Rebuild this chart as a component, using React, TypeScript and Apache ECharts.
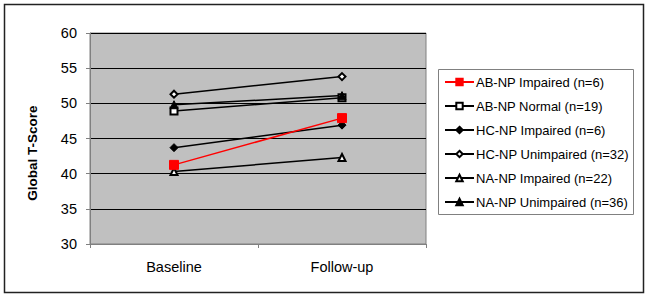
import React, { useEffect, useRef } from "react";
import * as echarts from "echarts";

const categories = ["Baseline", "Follow-up"];
const seriesNames = [
  "AB-NP Impaired (n=6)",
  "AB-NP Normal (n=19)",
  "HC-NP Impaired (n=6)",
  "HC-NP Unimpaired (n=32)",
  "NA-NP Impaired (n=22)",
  "NA-NP Unimpaired (n=36)",
];
const abImpaired = [41.25, 47.9];
const abNormal = [48.9, 50.8];
const hcImpaired = [43.7, 46.9];
const hcUnimpaired = [51.3, 53.8];
const naImpaired = [40.3, 42.3];
const naUnimpaired = [49.8, 51.1];
const yTicks = { min: 30, max: 60, interval: 5 };

const FONT = "'Liberation Sans', Arial, sans-serif";

export default function App() {
  const ref = useRef<HTMLDivElement>(null);
  useEffect(() => {
    if (!ref.current) return;
    const chart = echarts.init(ref.current, undefined, { renderer: "svg" });
    const mk = (
      name: string,
      data: number[],
      symbol: string,
      size: number,
      color: string,
      z: number
    ) => ({
      name,
      type: "line",
      data,
      symbol,
      symbolSize: size,
      z,
      lineStyle: { color, width: 1.5 },
      itemStyle: { color, borderColor: color, borderWidth: 1 },
      emphasis: { disabled: true },
    });
    chart.setOption({
      animation: false,
      backgroundColor: "#ffffff",
      grid: {
        left: 90,
        top: 33,
        right: 223,
        bottom: 54,
        show: true,
        backgroundColor: "#C0C0C0",
        borderColor: "#808080",
        borderWidth: 1,
      },
      xAxis: {
        type: "category",
        data: categories,
        boundaryGap: true,
        axisLine: { lineStyle: { color: "#808080", width: 1 } },
        axisTick: { show: true, length: 4, lineStyle: { color: "#808080" } },
        axisLabel: { color: "#000", fontSize: 14.5, fontFamily: FONT, margin: 15 },
        splitLine: { show: false },
      },
      yAxis: {
        type: "value",
        min: yTicks.min,
        max: yTicks.max,
        interval: yTicks.interval,
        axisLine: { show: true, lineStyle: { color: "#808080", width: 1 } },
        axisTick: { show: true, length: 4, lineStyle: { color: "#808080" } },
        axisLabel: { color: "#000", fontSize: 14.5, fontFamily: FONT, margin: 13 },
        splitLine: { show: true, lineStyle: { color: "#000", width: 1 } },
      },
      legend: {
        orient: "vertical",
        left: 444,
        top: 75,
        padding: 0,
        itemWidth: 29,
        itemHeight: 8,
        itemGap: 10,
        data: seriesNames,
        textStyle: { fontSize: 13, fontFamily: FONT, color: "#000", lineHeight: 14, padding: [0, 0, 0, -3] },
        selectedMode: false,
      },
      graphic: [
        {
          type: "rect",
          shape: { x: 4.5, y: 4.5, width: 639, height: 288 },
          style: { fill: "none", stroke: "#222", lineWidth: 1.5 },
          silent: true,
        },
        {
          type: "rect",
          shape: { x: 438.5, y: 69.5, width: 195, height: 145 },
          style: { fill: "none", stroke: "#808080", lineWidth: 1 },
          silent: true,
        },
        {
          type: "text",
          x: 32,
          y: 153,
          rotation: Math.PI / 2,
          style: {
            text: "Global T-Score",
            fontSize: 13.5,
            fontWeight: "bold",
            fontFamily: FONT,
            fill: "#000",
            align: "center",
            verticalAlign: "middle",
          },
          silent: true,
        },
      ],
      series: [
        mk(seriesNames[1], abNormal, "emptyRect", 7, "#000", 2),
        mk(seriesNames[2], hcImpaired, "diamond", 8, "#000", 2),
        mk(seriesNames[3], hcUnimpaired, "emptyDiamond", 7, "#000", 2),
        mk(seriesNames[4], naImpaired, "emptyTriangle", 7, "#000", 2),
        mk(seriesNames[5], naUnimpaired, "triangle", 8, "#000", 2),
        mk(seriesNames[0], abImpaired, "rect", 9, "#FF0000", 3),
      ],
    });
    return () => chart.dispose();
  }, []);
  return (
    <div
      ref={ref}
      style={{ position: "fixed", left: 0, top: 0, width: 649, height: 298 }}
    />
  );
}
